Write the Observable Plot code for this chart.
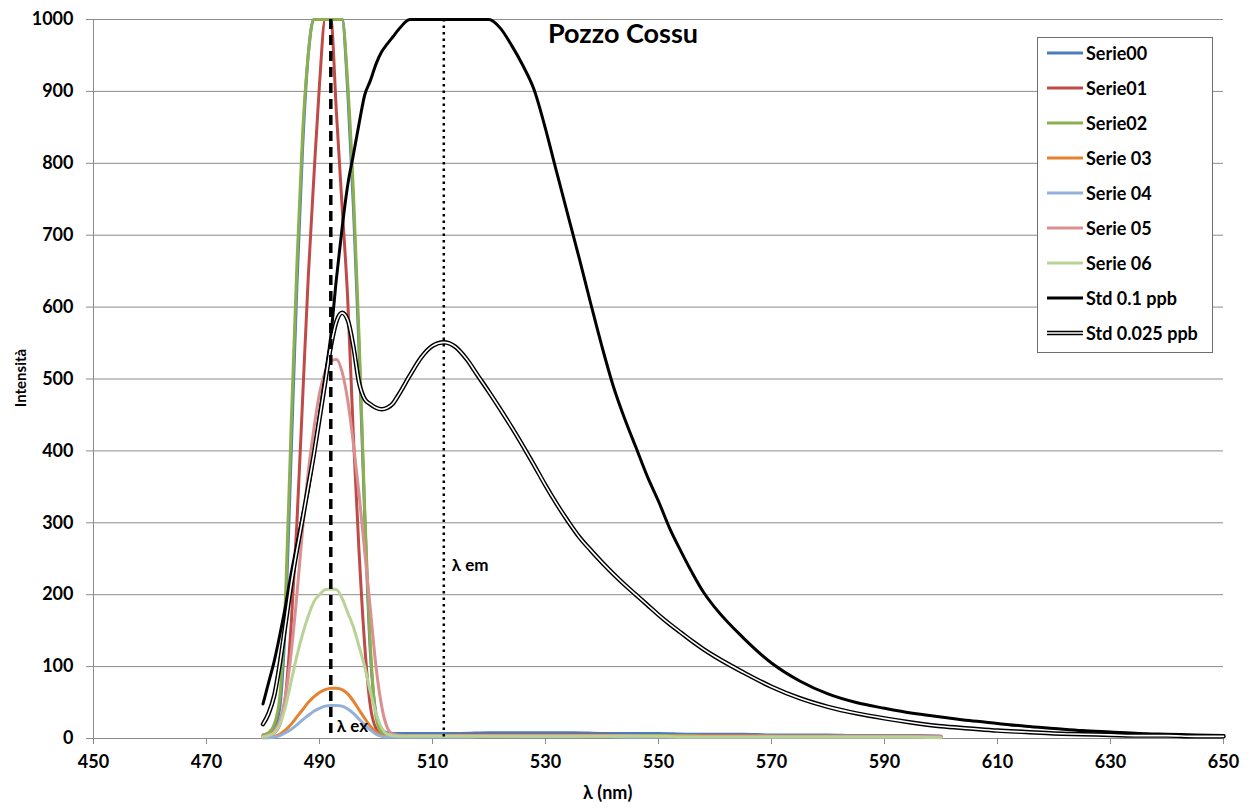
<!DOCTYPE html>
<html>
<head>
<meta charset="utf-8">
<script src="https://cdn.jsdelivr.net/npm/d3@7"></script>
<script src="https://cdn.jsdelivr.net/npm/@observablehq/plot@0.6"></script>
<style>
  html, body { margin: 0; padding: 0; background: #fff; }
  #wrap { position: relative; width: 1257px; height: 810px; font-family: Lato, "Open Sans", sans-serif; }
  #chart { position: absolute; left: 0; top: 0; }
  .ov { position: absolute; font-weight: bold; color: #000; white-space: nowrap; }
  #legend { position: absolute; left: 1037px; top: 37px; width: 174px; height: 314px; border: 1px solid #6f6f6f; background: #fff; }
  .lrow { position: absolute; left: 9px; height: 20px; display: flex; align-items: center; font-weight: bold; font-size: 18px; }
  .lrow svg { margin-right: 3px; }
</style>
</head>
<body>
<div id="wrap">
  <div id="chart"></div>
  <div class="ov" id="title" style="left:548px; top:16px; font-size:27px;">Pozzo Cossu</div>
  <div class="ov" style="left:583px; top:781px; font-size:18px;">λ (nm)</div>
  <div class="ov" style="left:20px; top:378px; font-size:15px; transform: translate(-50%,-50%) rotate(-90deg);">Intensità</div>
  <div id="legend"></div>
</div>
<script>
// ---- Data ----
const lambdaSerie = [480,481,482,483,484,485,486,487,488,489,490,491,492,493,494,495,496,497,498,499,500,501,502,503,
  505,510,515,520,525,530,535,540,545,550,555,560,565,570,575,580,585,590,595,600];

const serie00 = [5,7,15,45,170,400,630,820,950,1050,1120,1140,1120,1080,1010,900,740,540,310,120,35,12,8,7,
  7,7,7,8,8,8,8,7,7,7,6,6,6,5,5,5,4,4,4,3];
const serie01 = [3,5,8,20,60,160,300,470,640,780,910,1005,1010,870,740,610,420,260,130,45,14,6,5,4,
  4,4,5,5,5,5,5,5,4,4,4,4,4,3,3,3,3,3,3,3];
const serie02 = [5,8,20,60,200,440,660,840,950,1040,1110,1130,1110,1070,1000,910,760,560,320,130,30,8,4,3,
  3,3,3,4,4,4,4,4,4,4,4,3,3,3,3,3,3,3,3,2];
const serie03 = [1,2,3,6,12,20,30,40,50,58,64,68,70,70,68,62,52,40,28,17,9,4,3,3,
  3,3,3,3,4,4,4,3,3,3,3,3,3,3,2,2,2,2,2,2];
const serie04 = [1,1,2,4,8,13,19,26,32,38,42,45,46,46,45,41,35,27,19,12,6,3,2,2,
  2,2,2,3,3,3,3,3,2,2,2,2,2,2,2,2,2,2,2,2];
const serie05 = [3,5,10,25,60,120,200,290,370,430,480,510,525,527,510,470,410,340,260,180,100,45,15,6,
  4,4,4,4,4,4,4,4,4,3,3,3,3,3,3,3,3,3,3,2];
const serie06 = [2,4,8,20,45,80,115,145,170,190,200,207,208,207,195,175,155,128,100,65,35,15,6,4,
  3,3,3,3,3,3,3,3,3,3,2,2,2,2,2,2,2,2,2,1];

const lambdaStd = [480,481,482,483,484,485,486,487,488,489,490,491,492,493,494,495,496,497,498,499,500,501,502,503,504,
  506,508,510,512,514,516,518,520,522,524,526,528,530,532,534,536,538,540,542,544,546,548,550,552,554,556,558,560,
  565,570,575,580,585,590,595,600,605,610,615,620,625,630,635,640,645,650];

const std01 = [48,78,108,145,185,230,270,310,345,395,450,505,560,640,710,770,812,855,895,915,938,955,966,976,986,
  1010,1040,1060,1070,1068,1055,1035,1005,988,964,936,902,848,787,727,667,605,545,490,445,405,365,330,292,260,230,203,182,
  140,105,80,62,50,42,35,30,25,21,17,14,11,9,7,6,5,4];
const std0025 = [20,35,60,105,160,215,262,305,350,395,445,495,545,580,592,582,545,495,472,465,460,458,460,466,478,
  505,530,546,551,545,528,505,482,458,433,407,380,352,326,302,280,262,245,229,214,200,186,172,159,147,135,124,114,
  92,72,56,44,35,28,22,17,14,11,9,7,6,5,4,4,3,3];

const seriesNames = ["Serie00","Serie01","Serie02","Serie 03","Serie 04","Serie 05","Serie 06","Std 0.1 ppb","Std 0.025 ppb"];
const seriesColors = ["#4a7ebb","#be4b48","#8cb04d","#e6812f","#93b1d8","#d9908e","#b9d396","#000000","#000000"];

const yTicks = [0,100,200,300,400,500,600,700,800,900,1000];
const xTicks = [450,470,490,510,530,550,570,590,610,630,650];
const yMax = 1000;

const lambdaEx = [492];
const lambdaEm = [512];
const markerLabels = [{x: 492, y: 0, text: "λ ex", dx: 6}, {x: 512, y: 224, text: "λ em", dx: 8}];

// ---- Build tables ----
const toRows = (xs, ys) => xs.map((x, i) => ({x, y: ys[i]}));
const serieData = [serie00, serie01, serie02, serie03, serie04, serie05, serie06].map(v => toRows(lambdaSerie, v));
const std01Data = toRows(lambdaStd, std01);
const std0025Data = toRows(lambdaStd, std0025);

// values above the axis maximum are drawn along the top edge, as the original chart does
const yClamp = d => Math.min(d.y, yMax);

const grid = "#8c8c8c";
const lineMarks = serieData.map((d, i) =>
  Plot.line(d, {x: "x", y: yClamp, stroke: seriesColors[i], strokeWidth: 3, curve: "monotone-x"}));

const chart = Plot.plot({
  width: 1257,
  height: 810,
  marginLeft: 93,
  marginRight: 34,
  marginTop: 19,
  marginBottom: 72,
  style: {fontFamily: "Lato, 'Open Sans', sans-serif", background: "#fff"},
  x: {domain: [450, 650]},
  y: {domain: [0, yMax]},
  marks: [
    Plot.gridY(yTicks, {stroke: grid, strokeOpacity: 1}),
    Plot.axisY({ticks: yTicks, tickFormat: d => String(d), tickSize: 7, tickPadding: 13, stroke: grid, fill: "#000", fontSize: 18, fontWeight: "bold", label: null}),
    Plot.axisX({ticks: xTicks, tickFormat: d => String(d), tickSize: 6, tickPadding: 11, stroke: grid, fill: "#000", fontSize: 18, fontWeight: "bold", label: null}),
    Plot.ruleX([450], {stroke: grid}),
    Plot.ruleY([0], {stroke: grid}),
    ...lineMarks,
    Plot.line(std01Data, {x: "x", y: yClamp, stroke: "#000", strokeWidth: 3, curve: "monotone-x"}),
    Plot.line(std0025Data, {x: "x", y: yClamp, stroke: "#000", strokeWidth: 4.5, curve: "monotone-x"}),
    Plot.line(std0025Data, {x: "x", y: yClamp, stroke: "#fff", strokeWidth: 1.6, curve: "monotone-x"}),
    Plot.ruleX(lambdaEx, {stroke: "#000", strokeWidth: 3.5, strokeDasharray: "10,6"}),
    Plot.ruleX(lambdaEm, {stroke: "#000", strokeWidth: 2.5, strokeDasharray: "2.5,4"}),
    Plot.text(markerLabels.slice(0, 1), {x: "x", y: "y", text: "text", textAnchor: "start", dx: 6, dy: -12, fontSize: 17, fontWeight: "bold", fill: "#000"}),
    Plot.text(markerLabels.slice(1), {x: "x", y: "y", text: "text", textAnchor: "start", dx: 8, dy: -12, fontSize: 17, fontWeight: "bold", fill: "#000"})
  ]
});
document.getElementById("chart").appendChild(chart);

// ---- Legend ----
const legend = document.getElementById("legend");
seriesNames.forEach((name, i) => {
  const row = document.createElement("div");
  row.className = "lrow";
  row.style.top = (15 + i * 35 - 10) + "px";
  const double = i === 8;
  row.innerHTML = `<svg width="36" height="10">` +
    (double
      ? `<line x1="0" y1="5" x2="36" y2="5" stroke="#000" stroke-width="4.5"/><line x1="0" y1="5" x2="36" y2="5" stroke="#fff" stroke-width="1.6"/>`
      : `<line x1="0" y1="5" x2="36" y2="5" stroke="${seriesColors[i]}" stroke-width="3"/>`) +
    `</svg><span>${name}</span>`;
  legend.appendChild(row);
});
</script>
</body>
</html>
